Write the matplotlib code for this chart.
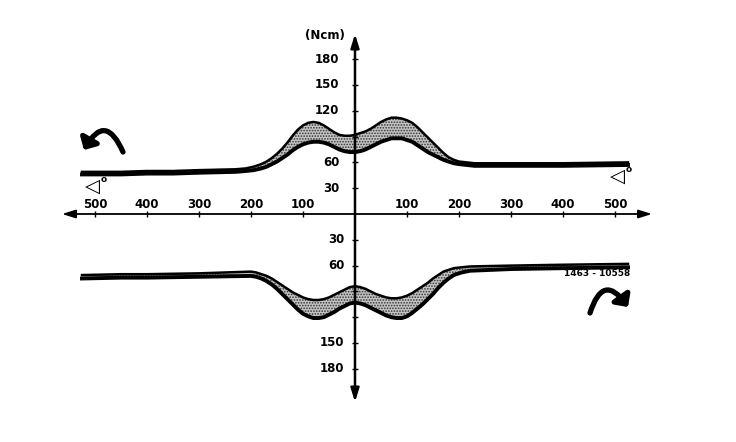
import matplotlib
matplotlib.use("Agg")
import matplotlib.pyplot as plt
from matplotlib.patches import FancyArrowPatch

# ---- data (angle in degrees, torque in Ncm) ----
up_angle = [-525, -450, -400, -350, -300, -230, -210, -195, -180, -170, -160, -150, -140, -130, -120, -110,
            -100, -90, -80, -70, -60, -50, -40, -30, -20, -10, 0, 10, 20, 30, 40, 50, 60, 70, 80, 90,
            100, 110, 120, 130, 140, 150, 160, 170, 180, 190, 200, 215, 230, 300, 400, 525]
up_top = [49, 49, 50, 50, 51, 52, 53, 55, 58, 61, 65, 70, 76, 83, 91, 98,
          103, 106, 107, 106, 103, 99, 95, 92, 91, 91, 92, 94, 96, 99, 103, 107, 110, 112, 112, 111,
          109, 106, 101, 95, 89, 83, 77, 71, 66, 63, 61, 60, 59, 59, 59, 60]
up_bot = [46, 46, 47, 47, 48, 49, 50, 51, 53, 55, 58, 61, 65, 69, 74, 78,
          81, 83, 84, 84, 83, 81, 78, 75, 73, 72, 72, 73, 75, 78, 81, 84, 86, 88, 88, 88,
          86, 84, 80, 76, 72, 69, 66, 63, 61, 59, 58, 57, 56, 56, 56, 57]

lo_angle = [-525, -450, -400, -300, -200, -190, -180, -170, -160, -150, -140, -130, -120, -110, -100,
            -90, -80, -70, -60, -50, -40, -30, -20, -10, 0, 10, 20, 30, 40, 50, 60, 70, 80, 90,
            100, 110, 120, 130, 140, 150, 160, 170, 180, 190, 205, 221, 300, 400, 525]
lo_in = [71, 70, 70, 69, 67, 68, 70, 72, 75, 79, 83, 87, 91, 94, 97,
         99, 100, 100, 99, 97, 94, 91, 88, 85, 84, 85, 87, 90, 93, 95, 97, 98, 98, 97,
         95, 92, 88, 84, 80, 75, 71, 67, 65, 63, 62, 61, 60, 59, 58]
lo_out = [75, 74, 74, 73, 72, 73, 75, 78, 82, 87, 93, 99, 105, 111, 116,
          119, 121, 121, 120, 117, 114, 110, 107, 104, 103, 104, 106, 109, 112, 115, 118, 120, 121, 121,
          119, 115, 110, 105, 99, 93, 86, 80, 75, 71, 68, 66, 64, 63, 62]

x_ticks = [-500, -400, -300, -200, -100, 100, 200, 300, 400, 500]
x_labels = ["500", "400", "300", "200", "100", "100", "200", "300", "400", "500"]
y_ticks = [30, 60, 90, 120, 150, 180]
y_up_labels = ["30", "60", "", "120", "150", "180"]
y_lo_labels = ["30", "60", "", "", "150", "180"]

# ---- figure ----
W, H = 736, 442
fig = plt.figure(figsize=(W / 100, H / 100), dpi=100)
ax = fig.add_axes([0, 0, 1, 1])
X0, Y0, SX, SY = 355, 214, 0.52, 0.86
ax.set_xlim(-X0 / SX, (W - X0) / SX)
ax.set_ylim(-(H - Y0) / SY, Y0 / SY)
ax.axis("off")

def px(x, y):
    return ((x - X0) / SX, (Y0 - y) / SY)

plt.rcParams['hatch.linewidth'] = 0.8
fnt = dict(family="DejaVu Sans", weight="bold", fontsize=8.5, color="black")

# bands
lo_in_n = [-v for v in lo_in]
lo_out_n = [-v for v in lo_out]
for a, t, b in [(up_angle, up_top, up_bot), (lo_angle, lo_in_n, lo_out_n)]:
    ax.fill_between(a, b, t, facecolor="#c4c4c4", edgecolor="#333333", hatch="......", linewidth=0, zorder=2)
ax.plot(up_angle, up_top, color="black", lw=1.8, solid_joinstyle="round", zorder=3)
ax.plot(up_angle, up_bot, color="black", lw=2.8, solid_joinstyle="round", zorder=3)
ax.plot(lo_angle, lo_in_n, color="black", lw=1.8, solid_joinstyle="round", zorder=3)
ax.plot(lo_angle, lo_out_n, color="black", lw=2.8, solid_joinstyle="round", zorder=3)

# axes lines with arrows
ax.annotate("", xy=px(62, 214), xytext=px(652, 214),
            arrowprops=dict(arrowstyle="<|-|>,head_length=0.8,head_width=0.25", color="black", lw=1.3,
                            shrinkA=0, shrinkB=0), zorder=4)
ax.annotate("", xy=px(355, 34), xytext=px(355, 402),
            arrowprops=dict(arrowstyle="<|-|>,head_length=0.8,head_width=0.25", color="black", lw=1.8,
                            shrinkA=0, shrinkB=0), zorder=4)

# ticks
ax.plot(x_ticks, [0] * len(x_ticks), ls="none", marker="|", ms=5, mew=1.0, color="black", zorder=4)
ax.plot([0] * len(y_ticks), y_ticks, ls="none", marker="_", ms=5, mew=1.0, color="black", zorder=4)
ax.plot([0] * len(y_ticks), [-v for v in y_ticks], ls="none", marker="_", ms=5, mew=1.0, color="black", zorder=4)

# tick labels
for v, lab in zip(x_ticks, x_labels):
    ax.text(v, 10.5, lab, ha="center", va="center", **fnt)
for v, lab in zip(y_ticks, y_up_labels):
    if lab:
        ax.text(-30, v, lab, ha="right", va="center", **fnt)
for v, lab in zip(y_ticks, y_lo_labels):
    if lab:
        ax.text(-20, -v, lab, ha="right", va="center", **fnt)

ax.text(*px(325, 35), "(Ncm)", ha="center", va="center", **fnt)
for (sx, sy) in [(92, 186), (617, 176)]:
    ax.text(*px(sx, sy), "◁", ha="center", va="center", family="DejaVu Sans", weight="bold",
            fontsize=14, color="black")
    ax.text(*px(sx + 12, sy - 6), "o", ha="center", va="center", family="DejaVu Sans", weight="bold",
            fontsize=6.5, color="black")
ax.text(*px(597, 273), "1463 - 10558", ha="center", va="center", family="DejaVu Sans", weight="bold",
        fontsize=6.5, color="black")

# rotation arrows
arr1 = FancyArrowPatch(px(123, 152), px(84, 150), connectionstyle="arc3,rad=1.0",
                       arrowstyle="-|>,head_length=6,head_width=6", lw=3.8, color="black",
                       shrinkA=0, shrinkB=0, zorder=5)
ax.add_patch(arr1)
arr2 = FancyArrowPatch(px(590, 313), px(628, 307), connectionstyle="arc3,rad=-1.0",
                       arrowstyle="-|>,head_length=6,head_width=6", lw=3.8, color="black",
                       shrinkA=0, shrinkB=0, zorder=5)
ax.add_patch(arr2)

fig.savefig("out.png", dpi=100, facecolor="white")
